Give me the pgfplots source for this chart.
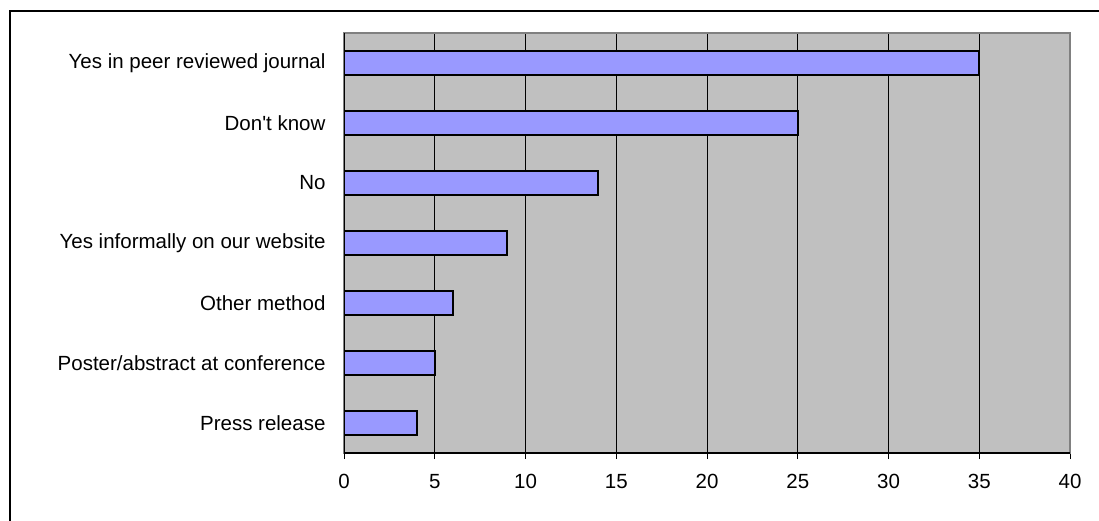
\documentclass[border=0pt]{standalone}
\usepackage{fontspec}
\setmainfont{Liberation Sans}[Ligatures=TeXOff]
\usepackage{pgfplots}
\pgfplotsset{compat=1.18}
\definecolor{plotbg}{RGB}{192,192,192}
\definecolor{barfill}{RGB}{153,153,255}
\definecolor{framegray}{RGB}{128,128,128}
\begin{document}
\begin{tikzpicture}[x=1pt,y=1pt]
\useasboundingbox (0,0) rectangle (1099,520);
\fill[white] (0,0) rectangle (1099,520);
\draw[black, line width=1.3pt] (10,-20) -- (10,509) -- (1120,509);
\begin{axis}[
  at={(344pt,67pt)}, anchor=south west,
  scale only axis, width=726pt, height=420pt,
  xmin=0, xmax=40, ymin=-0.5, ymax=6.5,
  xbar, bar width=24pt,
  axis background/.style={fill=plotbg},
  axis line style={draw=framegray, line width=1.5pt},
  xtick={0,5,...,40},
  xtick pos=bottom, ytick pos=left,
  xmajorgrids, grid style={black, line width=0.8pt},
  ytick={0,...,6},
  yticklabels={Press release, Poster/abstract at conference, Other method, Yes informally on our website, No, Don't know, Yes in peer reviewed journal},
  y tick style={draw=none},
  x tick style={black, line width=0.8pt},
  tick align=outside, major tick length=6pt,
  extra y ticks={-0.5,0.5,...,6.5},
  extra y tick labels={},
  extra y tick style={major tick length=7pt, tick style={draw=black, line width=1pt}, grid=none},
  tick label style={font=\fontsize{20.5}{24}\selectfont},
  /pgf/number format/assume math mode=true,
  yticklabel style={xshift=-9pt},
  xticklabel style={yshift=-12pt},
]
\addplot[fill=barfill, draw=black, line width=2pt] coordinates {
  (4,0) (5,1) (6,2) (9,3) (14,4) (25,5) (35,6)
};
\draw[black, line width=1.5pt] (axis cs:0,6.5) -- (axis cs:0,-0.5) -- (axis cs:40,-0.5);
\end{axis}
\end{tikzpicture}
\end{document}
